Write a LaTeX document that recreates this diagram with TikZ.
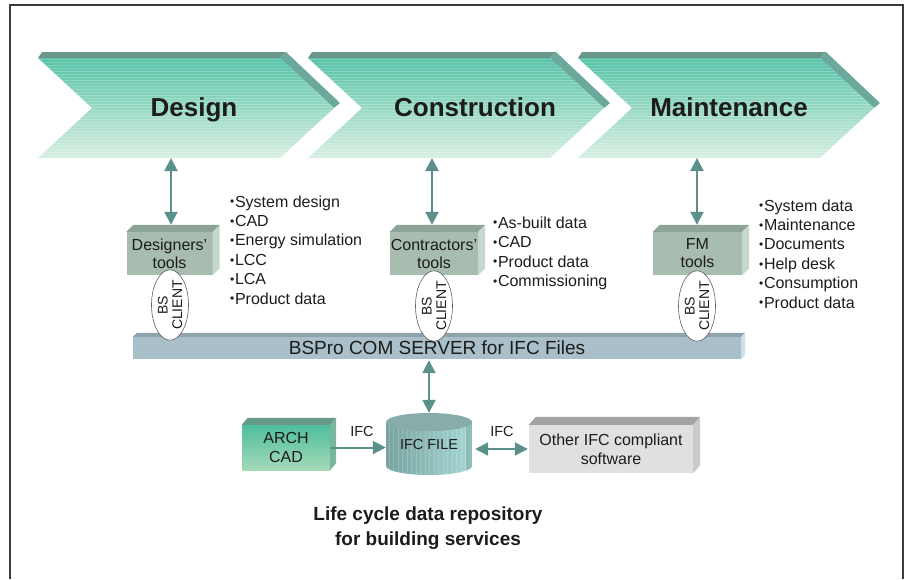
\documentclass[tikz,border=0pt]{standalone}
\usepackage{fontspec}
\setmainfont{Liberation Sans}
\usetikzlibrary{arrows.meta,shapes.geometric}
\definecolor{txt}{HTML}{1C1C1C}
\definecolor{frame}{HTML}{3A3A3A}
\definecolor{chevtop}{HTML}{55C2A6}
\definecolor{chevmid}{HTML}{9FDAC4}
\definecolor{chevbot}{HTML}{D8EFE2}
\definecolor{chevlid}{HTML}{6B978B}
\definecolor{chevside}{HTML}{6AA99B}
\definecolor{arr}{HTML}{5C908B}
\definecolor{toolfront}{HTML}{A8BDB0}
\definecolor{tooltop}{HTML}{8EA398}
\definecolor{toolside}{HTML}{C4D9CC}
\definecolor{srvfront}{HTML}{A9BFCA}
\definecolor{srvtop}{HTML}{8FA3AD}
\definecolor{srvside}{HTML}{C9E2EE}
\definecolor{archtopc}{HTML}{4DBE9E}
\definecolor{archbotc}{HTML}{A5D9B7}
\definecolor{archlid}{HTML}{66998A}
\definecolor{archside}{HTML}{78B69D}
\definecolor{othfront}{HTML}{DFE0E1}
\definecolor{othlid}{HTML}{A3A3A3}
\definecolor{othside}{HTML}{C9C9CA}
\definecolor{cylleft}{HTML}{78A39F}
\definecolor{cylright}{HTML}{A6D8D5}
\definecolor{cyllid}{HTML}{87ACA9}
\newcommand\bul{\raisebox{1.2pt}{\fontsize{12}{12}\selectfont •}\hspace{0.6pt}}
\newcommand\extrudebox[5]{%
  \fill[#4] (#1.north west) -- ++(#2,-#3) -- ([shift={(#2,-#3)}]#1.north east) -- (#1.north east) -- cycle;
  \fill[#5] (#1.north east) -- ++(#2,-#3) -- ([shift={(#2,-#3)}]#1.south east) -- (#1.south east) -- cycle;}
\begin{document}
\begin{tikzpicture}[x=1pt,y=-1pt,
  dbl/.style={arr, line width=2pt, {Triangle[width=13pt,length=13pt]}-{Triangle[width=13pt,length=13pt]}},
  sgl/.style={arr, line width=2pt, -{Triangle[width=13pt,length=13pt]}},
  chevlabel/.style={anchor=base, inner sep=0pt, font=\bfseries\fontsize{26}{28}\selectfont, text=txt},
  tool/.style={rectangle, fill=toolfront, inner sep=0pt, align=center, font=\fontsize{16}{18}\selectfont, text=txt},
  client/.style={ellipse, draw=gray!75!black, fill=white, line width=0.6pt, rotate=90, minimum width=64pt, minimum height=37pt, inner sep=0pt, align=center, font=\fontsize{14}{14.5}\selectfont, text=txt},
  lst/.style={anchor=base west, inner sep=0pt, font=\fontsize{16}{19}\selectfont, text=txt},
  lbl/.style={inner sep=0pt, font=\fontsize{14.5}{16}\selectfont, text=txt, align=center}]
\useasboundingbox (0,0) rectangle (909,579);
% frame
\draw[frame, line width=1.3pt] (10,579) -- (10,5) -- (903,5) -- (903,579);
% chevrons
\foreach \x/\nm/\tx/\txt in {38/design/194/Design, 308/constr/475/Construction, 578/maint/729/Maintenance}{
  \fill[chevlid] (\x,58) -- (\x+4,52) -- (\x+248,52) -- (\x+242,58) -- cycle;
  \fill[chevside] (\x+242,58) -- (\x+248,52) -- (\x+302,103) -- (\x+296,108) -- cycle;
  \shade[top color=chevtop, middle color=chevmid, bottom color=chevbot] (\x,58) -- (\x+242,58) -- (\x+296,108) -- (\x+242,158) -- (\x,158) -- (\x+54,108) -- cycle;
  \begin{scope}
    \clip (\x,58) -- (\x+242,58) -- (\x+296,108) -- (\x+242,158) -- (\x,158) -- (\x+54,108) -- cycle;
    \foreach \yy in {59.5,62.5,...,158} \draw[white, opacity=0.22, line width=0.9pt] (\x,\yy) -- (\x+300,\yy);
  \end{scope}
  \node[chevlabel] (\nm) at (\tx,116) {\txt};
}
\coordinate (desB) at (171,158);
\coordinate (conB) at (432,158);
\coordinate (maiB) at (697,158);
% tool boxes
\node[tool, minimum width=86pt, minimum height=43pt] (dt) at (169.5,253.5) {Designers'\\tools};
\node[tool, minimum width=88pt, minimum height=43pt] (ct) at (434,253.5) {Contractors'\\tools};
\node[tool, minimum width=89pt, minimum height=43pt] (ft) at (697.5,253.5) {FM\\tools};
\extrudebox{dt}{7}{7}{tooltop}{toolside}
\extrudebox{ct}{7}{7}{tooltop}{toolside}
\extrudebox{ft}{7}{7}{tooltop}{toolside}
% arrows chevron <-> tools
\draw[dbl, shorten >=7pt] (desB) -- (desB |- dt.north);
\draw[dbl, shorten >=7pt] (conB) -- (conB |- ct.north);
\draw[dbl, shorten >=7pt] (maiB) -- (maiB |- ft.north);
% server bar
\node[rectangle, fill=srvfront, inner sep=0pt, minimum width=608pt, minimum height=22pt, font=\fontsize{19}{21}\selectfont, text=txt] (srv) at (437,348) {BSPro COM SERVER for IFC Files};
\extrudebox{srv}{4}{4}{srvtop}{srvside}
% clients
\node[client] (c1) at (170,305) {BS\\CLIENT};
\node[client] (c2) at (434,306) {BS\\CLIENT};
\node[client] (c3) at (697,306) {BS\\CLIENT};
% bullet lists
\foreach \t [count=\i] in {System design,CAD,Energy simulation,LCC,LCA,Product data}
  \node[lst] (dl\i) at (230,187.6+19.4*\i) {\bul\t};
\foreach \t [count=\i] in {As-built data,CAD,Product data,Commissioning}
  \node[lst] (cl\i) at (493,208.5+19.5*\i) {\bul\t};
\foreach \t [count=\i] in {System data,Maintenance,Documents,Help desk,Consumption,Product data}
  \node[lst] (fl\i) at (759,191.6+19.4*\i) {\bul\t};
% cylinder
\shade[left color=cylleft, right color=cylright] (386,422) -- (386,466) arc[start angle=180, end angle=0, x radius=43, y radius=9] -- (472,422) -- cycle;
\begin{scope}
  \clip (386,422) -- (386,466) arc[start angle=180, end angle=0, x radius=43, y radius=9] -- (472,422) -- cycle;
  \foreach \xx in {389,393.5,...,472} \draw[white, opacity=0.18, line width=0.8pt] (\xx,420) -- (\xx,478);
  \fill[cylleft, opacity=0.5] (466,420) rectangle (473,478);
\end{scope}
\fill[cyllid] (429,422) ellipse [x radius=43, y radius=9];
\node[lbl, minimum width=86pt, minimum height=62pt] (ifc) at (429,444) {IFC FILE};
% arch cad
\node[rectangle, top color=archtopc, bottom color=archbotc, inner sep=0pt, minimum width=88pt, minimum height=45pt, align=center, font=\fontsize{16}{18.5}\selectfont, text=txt] (arch) at (286,447.5) {ARCH\\CAD};
\extrudebox{arch}{6}{7}{archlid}{archside}
% other software
\node[rectangle, fill=othfront, inner sep=0pt, minimum width=164pt, minimum height=48pt, align=center, font=\fontsize{16}{19}\selectfont, text=txt] (oth) at (611,449) {Other IFC compliant\\software};
\extrudebox{oth}{7}{8}{othlid}{othside}
% bottom connectors
\draw[dbl, shorten <=1pt] (srv.south -| ifc.north) -- (ifc.north);
\draw[sgl] (arch.east) -- (arch.east -| ifc.west);
\draw[dbl, shorten <=3pt, shorten >=1pt] (ifc.east |- oth.west) -- (oth.west);
\node[lbl] (ifcA) at (362,431) {IFC};
\node[lbl] (ifcB) at (502,431) {IFC};
% caption
\node[inner sep=0pt, align=center, font=\bfseries\fontsize{19}{25}\selectfont, text=txt] (cap) at (428,528.5) {Life cycle data repository\\for building services};
\end{tikzpicture}
\end{document}
